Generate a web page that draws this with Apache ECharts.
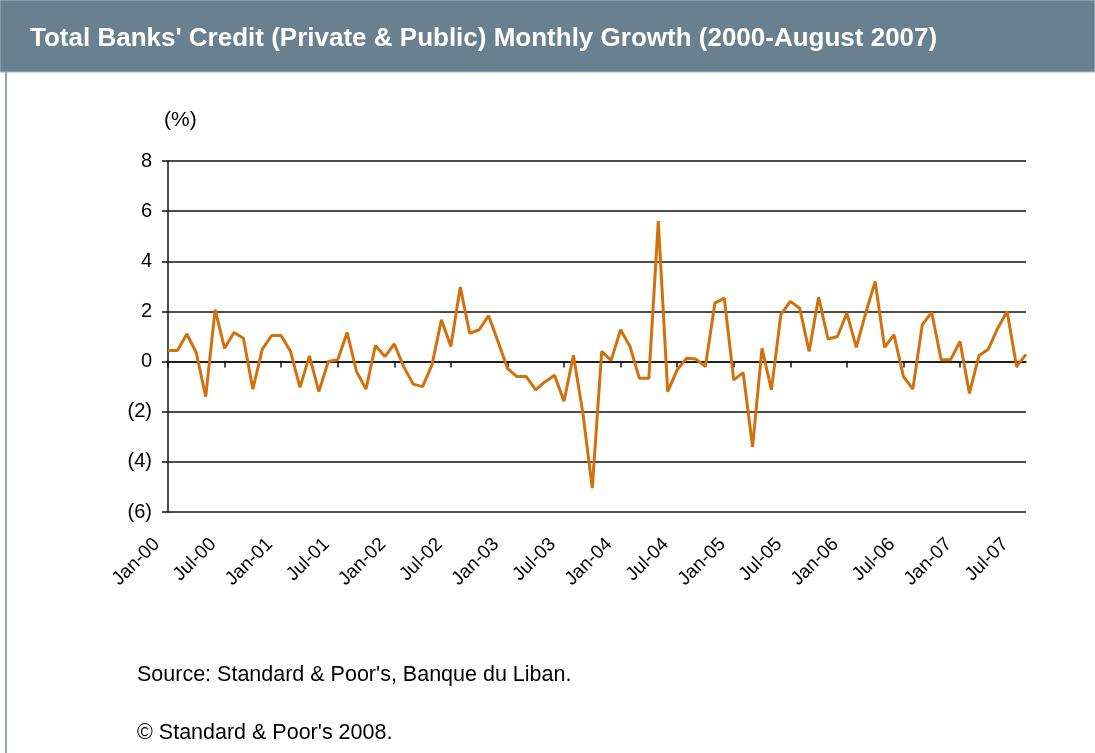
<!DOCTYPE html>
<html lang="en">
<head>
    <meta charset="UTF-8">
    <title>Total Banks' Credit Monthly Growth</title>
    <script src="https://cdn.jsdelivr.net/npm/echarts@6/dist/echarts.min.js"></script>
    <style>
        html, body { margin: 0; padding: 0; background: #fff; }
        #chart { width: 1095px; height: 753px; }
    </style>
</head>
<body>
    <div id="chart"></div>
    <script>
        // month labels Jan-00 .. Aug-07
        var monthNames = ['Jan', 'Feb', 'Mar', 'Apr', 'May', 'Jun', 'Jul', 'Aug', 'Sep', 'Oct', 'Nov', 'Dec'];
        var years = ['00', '01', '02', '03', '04', '05', '06', '07'];
        var categories = [];
        for (var y = 0; y < years.length; y++) {
            for (var m = 0; m < 12; m++) {
                if (categories.length < 92) categories.push(monthNames[m] + '-' + years[y]);
            }
        }

        // monthly growth (%)
        var growth = [
            0.44, 0.44, 1.1, 0.35, -1.4, 2.07, 0.53, 1.16, 0.93, -1.1, 0.5, 1.04,
            1.04, 0.4, -1.03, 0.23, -1.2, 0.0, 0.07, 1.16, -0.4, -1.1, 0.64, 0.2,
            0.7, -0.2, -0.9, -1.0, -0.13, 1.67, 0.6, 2.97, 1.13, 1.27, 1.83, 0.8,
            -0.27, -0.6, -0.6, -1.13, -0.8, -0.55, -1.58, 0.25, -2.05, -5.05, 0.41, 0.05,
            1.27, 0.6, -0.67, -0.67, 5.6, -1.2, -0.33, 0.13, 0.1, -0.2, 2.33, 2.53,
            -0.73, -0.44, -3.4, 0.53, -1.13, 1.87, 2.4, 2.13, 0.4, 2.57, 0.9, 1.0,
            1.93, 0.57, 1.93, 3.2, 0.57, 1.07, -0.6, -1.1, 1.47, 1.96, 0.07, 0.07,
            0.8, -1.27, 0.23, 0.49, 1.33, 2.0, -0.2, 0.29
        ];

        var titleText = "Total Banks' Credit (Private & Public) Monthly Growth (2000-August 2007)";
        var sourceText = "Source: Standard & Poor's, Banque du Liban.";
        var copyText = "\u00A9 Standard & Poor's 2008.";
        var font = 'Liberation Sans, Arial, sans-serif';

        var chart = echarts.init(document.getElementById('chart'));
        var option = {
            backgroundColor: '#fff',
            animation: false,
            grid: { left: 168, right: 69, top: 161, bottom: 241 },
            graphic: [
                {
                    type: 'rect',
                    shape: { x: 0, y: 0, width: 1095, height: 72 },
                    style: { fill: '#68808f', stroke: '#a9b8c2', lineWidth: 1 }
                },
                {
                    type: 'line',
                    shape: { x1: 6, y1: 72, x2: 6, y2: 753 },
                    style: { stroke: '#8fa2ae', lineWidth: 2 }
                },
                {
                    type: 'text',
                    left: 30, top: 26,
                    style: { text: titleText, fill: '#fff', font: 'bold 26px ' + font }
                },
                {
                    type: 'text',
                    left: 164, top: 110,
                    style: { text: '(%)', fill: '#000', font: '21px ' + font }
                },
                {
                    type: 'text',
                    left: 137, top: 664,
                    style: { text: sourceText, fill: '#000', font: '21.5px ' + font }
                },
                {
                    type: 'text',
                    left: 137, top: 722,
                    style: { text: copyText, fill: '#000', font: '21.5px ' + font }
                }
            ],
            xAxis: [
                {
                    type: 'category',
                    data: categories,
                    boundaryGap: false,
                    position: 'bottom',
                    axisLine: { onZero: false, show: false },
                    axisTick: { show: false },
                    axisLabel: {
                        interval: 5,
                        rotate: 45,
                        margin: 18,
                        padding: [0, 16, 0, 0],
                        color: '#000',
                        fontSize: 19,
                        fontFamily: font
                    },
                    splitLine: { show: false }
                },
                {
                    type: 'category',
                    data: categories,
                    boundaryGap: false,
                    position: 'bottom',
                    axisLine: { onZero: true, lineStyle: { color: '#111', width: 1.5 } },
                    axisTick: { show: true, interval: 5, length: 6, lineStyle: { color: '#111', width: 1.5 } },
                    axisLabel: { show: false },
                    splitLine: { show: false }
                }
            ],
            yAxis: {
                type: 'value',
                min: -6,
                max: 8,
                interval: 2,
                axisLine: { show: true, lineStyle: { color: '#111', width: 1.5 } },
                axisTick: { show: true, length: 6, lineStyle: { color: '#111', width: 1.5 } },
                axisLabel: {
                    margin: 16,
                    color: '#000',
                    fontSize: 20,
                    fontFamily: font,
                    formatter: function (v) {
                        return v < 0 ? '(' + Math.abs(v) + ')' : String(v);
                    }
                },
                splitLine: { show: true, lineStyle: { color: '#111', width: 1.5 } }
            },
            series: [
                {
                    type: 'line',
                    xAxisIndex: 0,
                    data: growth,
                    symbol: 'none',
                    lineStyle: { color: '#d2700c', width: 3 },
                    itemStyle: { color: '#d2700c' }
                }
            ]
        };
        chart.setOption(option);
    </script>
</body>
</html>
